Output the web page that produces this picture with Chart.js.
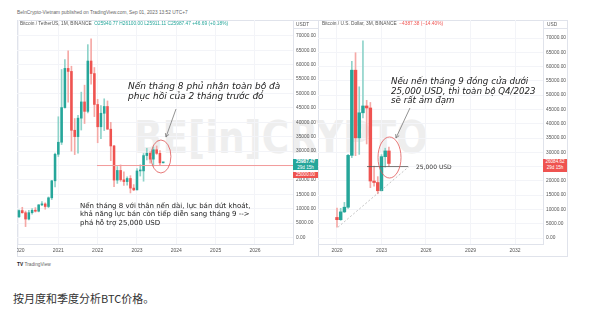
<!DOCTYPE html>
<html>
<head>
<meta charset="utf-8">
<script src="https://cdn.jsdelivr.net/npm/chart.js@4.4.0/dist/chart.umd.min.js"></script>
<style>
  html, body { margin: 0; padding: 0; background: #fff; }
  body { width: 600px; height: 321px; position: relative; overflow: hidden; font-family: "Liberation Sans", Arial, sans-serif; }
  .abs { position: absolute; white-space: nowrap; }
  .frame { position: absolute; top: 20px; height: 237px; border: 1px solid #e0e3eb; box-sizing: border-box; }
  canvas { position: absolute; top: 20px; }
  .mark { position: absolute; left: 134px; top: 112px; font: bold 44px "DejaVu Sans", sans-serif; color: #eeeeee; letter-spacing: 0px; transform-origin: 0 0; transform: scaleX(0.85); }
  .tiny { font-size: 4.8px; line-height: 6px; color: #555; }
  .note-i { font-family: "DejaVu Sans", sans-serif; font-style: italic; color: #222; }
  .note { font-family: "DejaVu Sans", sans-serif; color: #1c1c1c; }
  .tag { position: absolute; color: #fff; font-size: 4.6px; line-height: 5.5px; text-align: center; }
  .cap { font-family: "Noto Sans CJK SC", sans-serif; font-size: 11px; color: #333; }
</style>
</head>
<body>
<div class="mark">BE[in]CRYPTO</div>

<div class="frame" style="left:17px;width:302px"></div>
<div class="frame" style="left:318px;width:250px"></div>
<canvas id="left" width="301" height="237" style="left:17px"></canvas>
<canvas id="right" width="249" height="237" style="left:318px"></canvas>

<div class="abs tiny" style="left:17px;top:10px;color:#666">BeInCrypto-Vietnam published on TradingView.com, Sep 01, 2023 13:52 UTC+7</div>
<div class="abs tiny" style="left:20px;top:21px">Bitcoin / TetherUS, 1M, BINANCE&nbsp; <span style="color:#26a69a">O25940.77 H26100.00 L25911.11 C25987.47 +46.69 (+0.18%)</span></div>
<div class="abs tiny" style="left:322px;top:21px">Bitcoin / U.S. Dollar, 3M, BINANCE&nbsp; <span style="color:#ef5350">−4387.38 (−14.40%)</span></div>
<div class="abs tiny" style="left:293px;top:20px;width:25px;height:9px;border-bottom:1px solid #e0e3eb;text-align:left;padding-left:3px;box-sizing:border-box;line-height:9px">USDT</div>
<div class="abs tiny" style="left:543px;top:20px;width:24px;height:9px;border-bottom:1px solid #e0e3eb;text-align:left;padding-left:4px;box-sizing:border-box;line-height:9px">USD</div>

<div class="tag" style="left:293px;top:159px;width:25px;height:11px;background:#26a69a"><b>25987.47</b><br>29d 15h</div>
<div class="tag" style="left:293px;top:171.5px;width:25px;height:6px;background:#ef5350">25000.00</div>
<div class="tag" style="left:543px;top:159px;width:24px;height:13px;background:#ef5350">26084.62<br>29d 15h</div>

<div class="abs note-i" style="left:128px;top:81px;font-size:9px;line-height:10px">Nến tháng 8 phủ nhận toàn bộ đà<br>phục hồi của 2 tháng trước đó</div>
<div class="abs note-i" style="left:391px;top:77px;font-size:8.7px;line-height:9.5px">Nếu nến tháng 9 đóng cửa dưới<br>25,000 USD, thì toàn bộ Q4/2023<br>sẽ rất ảm đạm</div>
<div class="abs note" style="left:80px;top:201.5px;font-size:7px;line-height:8.8px">Nến tháng 8 với thân nến dài, lực bán dứt khoát,<br>khả năng lực bán còn tiếp diễn sang tháng 9 --&gt;<br>phá hỗ trợ 25,000 USD</div>
<div class="abs note" style="left:416px;top:162.5px;font-size:6px;line-height:7px;color:#333">25,000 USD</div>

<div class="abs tiny" style="left:17px;top:262px;color:#666"><b style="color:#222">TV</b> TradingView</div>
<div class="abs cap" style="left:13px;top:290px">按月度和季度分析BTC价格。</div>

<script>
// monthly BTC/USDT candles, Dec 2019 .. Sep 2023 (x index 0 = Jan 2020)
const monthStart = -1;
const monthOpen  = [7541, 7195, 9351, 8600, 6412, 8620, 9448, 9138, 11335, 11650, 10776, 13791, 19695,
  28923, 33092, 45134, 58739, 57697, 37254, 35045, 41461, 47100, 43820, 61300, 56950,
  46216, 38466, 43160, 45510, 37630, 31801, 19942, 23296, 20050, 19422, 20490, 17165,
  16541, 23125, 23141, 28465, 29233, 27210, 30472, 29232, 25940.77];
const monthHigh  = [7750, 9578, 10500, 9189, 9468, 10067, 10380, 11444, 12468, 12050, 14100, 19863, 29300,
  41950, 58352, 61844, 64854, 59500, 41330, 42448, 50500, 52920, 67000, 69000, 59053,
  47990, 45821, 48189, 47444, 40023, 31982, 24668, 25211, 22800, 21085, 21480, 18387,
  23960, 25250, 29184, 31000, 29820, 31431, 31804, 30230, 26100];
const monthLow   = [6435, 6871, 8445, 3782, 6150, 8117, 8833, 8893, 11093, 9825, 10374, 13195, 17572,
  28130, 32296, 44950, 47044, 30000, 28805, 29278, 37332, 39600, 43283, 53256, 42000,
  32917, 34322, 37155, 37578, 26700, 17622, 18781, 19520, 18125, 18190, 15476, 16256,
  16499, 21351, 19549, 26942, 25811, 24800, 28861, 25166, 25911.11];
const monthClose = [7193, 9352, 8599, 6410, 8620, 9448, 9138, 11335, 11649, 10776, 13791, 19695, 28923,
  33092, 45135, 58740, 57694, 37253, 35045, 41462, 47100, 43824, 61299, 56950, 46216,
  38466, 43160, 45510, 37630, 31801, 19942, 23293, 20050, 19423, 20490, 17164, 16542,
  23125, 23141, 28465, 29233, 27210, 30472, 29232, 25940.77, 25987.47];

// quarterly BTC/USD candles, Q1 2020 .. Q3 2023 (x index 0 = Q1 2020)
const quarterStart = 0;
const quarterOpen  = [7195, 6412, 9138, 10776, 28923, 58739, 35045, 43820, 46216, 45510, 19942, 19422, 16541, 28465, 30472];
const quarterHigh  = [10500, 10380, 12468, 29300, 61844, 64854, 52920, 69000, 48189, 47444, 25211, 21480, 29184, 31431, 31804];
const quarterLow   = [3782, 6150, 8893, 10374, 28130, 28805, 29278, 42000, 32917, 17622, 18125, 15476, 16499, 24800, 25166];
const quarterClose = [6410, 9138, 10776, 28923, 58740, 35045, 43824, 46216, 45510, 19942, 19423, 16542, 28465, 30472, 26084.62];

// axis labels
const leftYears  = ['2020', '2021', '2022', '2023', '2024', '2025', '2026'];  // every 12 months
const rightYears = ['2020', '2023', '2026', '2029', '2032'];                  // every 12 quarters
const priceTicks = [0, 5000, 10000, 15000, 20000, 25000, 30000, 35000, 40000, 45000, 50000, 55000, 60000, 65000, 70000];

// drawn levels
const supportLevel = 25000;
const trendStart = [0.27, 3782];

const FONT = "'Liberation Sans', Arial, sans-serif";
const GRID = '#f3f4f8';
const EDGE = '#e0e3eb';

function candleSets(start, o, h, l, c, body) {
  const up = o.map((v, i) => c[i] >= v);
  return [
    {
      type: 'bar', order: 2, grouped: false, barThickness: 1,
      data: l.map((v, i) => ({ x: start + i, y: [v, h[i]] })),
      backgroundColor: up.map(u => u ? '#8fd3ca' : '#f5a9a6')
    },
    {
      type: 'bar', order: 1, grouped: false, barThickness: body, minBarLength: 1,
      data: o.map((v, i) => ({ x: start + i, y: [v, c[i]] })),
      backgroundColor: up.map(u => u ? '#26a69a' : '#ef5350')
    }
  ];
}

const notes = {
  id: 'notes',
  afterDatasetsDraw(chart, args, opts) {
    const { ctx, scales: { x, y } } = chart;
    ctx.save();
    (opts.ellipses || []).forEach(e => {
      ctx.beginPath();
      ctx.ellipse(x.getPixelForValue(e.x), y.getPixelForValue(e.y), e.rx, e.ry, 0, 0, Math.PI * 2);
      ctx.strokeStyle = e.color;
      ctx.lineWidth = 0.8;
      ctx.stroke();
    });
    (opts.arrows || []).forEach(a => {
      const hx = x.getPixelForValue(a.x), hy = y.getPixelForValue(a.y);
      const tx = hx + a.dx, ty = hy + a.dy;
      const ang = Math.atan2(hy - ty, hx - tx);
      ctx.strokeStyle = '#777';
      ctx.lineWidth = 0.8;
      ctx.beginPath();
      ctx.moveTo(tx, ty);
      ctx.lineTo(hx, hy);
      ctx.moveTo(hx - 4 * Math.cos(ang - 0.5), hy - 4 * Math.sin(ang - 0.5));
      ctx.lineTo(hx, hy);
      ctx.lineTo(hx - 4 * Math.cos(ang + 0.5), hy - 4 * Math.sin(ang + 0.5));
      ctx.stroke();
    });
    ctx.restore();
  }
};

function lineSet(points, color, dash, width) {
  return {
    type: 'line', order: 0, data: points.map(p => ({ x: p[0], y: p[1] })),
    borderColor: color, backgroundColor: color, borderWidth: width || 1, borderDash: dash || [],
    pointRadius: 0, fill: false
  };
}

function candleChart(id, cfg) {
  return new Chart(document.getElementById(id), {
    type: 'bar',
    data: { datasets: cfg.datasets },
    options: {
      responsive: false,
      animation: false,
      events: [],
      layout: { padding: 0 },
      plugins: { legend: { display: false }, tooltip: { enabled: false }, notes: cfg.notes },
      scales: {
        x: {
          type: 'linear', min: cfg.xMin, max: cfg.xMax, offset: false,
          grid: { color: GRID, drawTicks: false, offset: false },
          border: { color: EDGE },
          ticks: { font: { size: 5, family: FONT }, color: '#555', padding: 4, maxRotation: 0, autoSkip: false,
                   callback: (v, i) => cfg.years[i] },
          afterBuildTicks: s => { s.ticks = cfg.years.map((_, i) => ({ value: i * 12 })); },
          afterFit: s => { s.height = 13; s.paddingLeft = 0; s.paddingRight = 0; }
        },
        y: {
          type: 'linear', position: 'right', min: cfg.yMin, max: cfg.yMax,
          grid: { color: GRID, drawTicks: false },
          border: { color: EDGE },
          ticks: { font: { size: 4.8, family: FONT }, color: '#555', padding: 3,
                   callback: v => v.toFixed(2) },
          afterBuildTicks: s => { s.ticks = priceTicks.map(v => ({ value: v })); },
          afterFit: s => { s.width = cfg.axisWidth; s.paddingTop = 0; s.paddingBottom = 0; }
        }
      }
    },
    plugins: [notes]
  });
}

candleChart('left', {
  xMin: -0.61, xMax: 83.6, yMin: -2258, yMax: 75558, axisWidth: 25, years: leftYears,
  datasets: [
    ...candleSets(monthStart, monthOpen, monthHigh, monthLow, monthClose, 1.9),
    lineSet([[23.8, supportLevel], [83.6, supportLevel]], '#f29a9a', null, 1)
  ],
  notes: {
    ellipses: [{ x: 43.3, y: 28140, rx: 10, ry: 16.5, color: '#e05555' }],
    arrows: [{ x: 44.85, y: 34900, dx: 10, dy: -28 }]
  }
});

candleChart('right', {
  xMin: -5.12, xMax: 55.55, yMin: -2100, yMax: 76300, axisWidth: 24, years: rightYears,
  datasets: [
    ...candleSets(quarterStart, quarterOpen, quarterHigh, quarterLow, quarterClose, 2.8),
    lineSet([[8.1, supportLevel], [19.15, supportLevel]], '#555', null, 0.8),
    lineSet([trendStart, [19.4, supportLevel]], '#b5b5b5', [2, 2], 0.8)
  ],
  notes: {
    ellipses: [{ x: 14.16, y: 28175, rx: 11.5, ry: 20.5, color: '#e05555' }],
    arrows: [{ x: 15.9, y: 35000, dx: 14, dy: -30 }]
  }
});
</script>
</body>
</html>
